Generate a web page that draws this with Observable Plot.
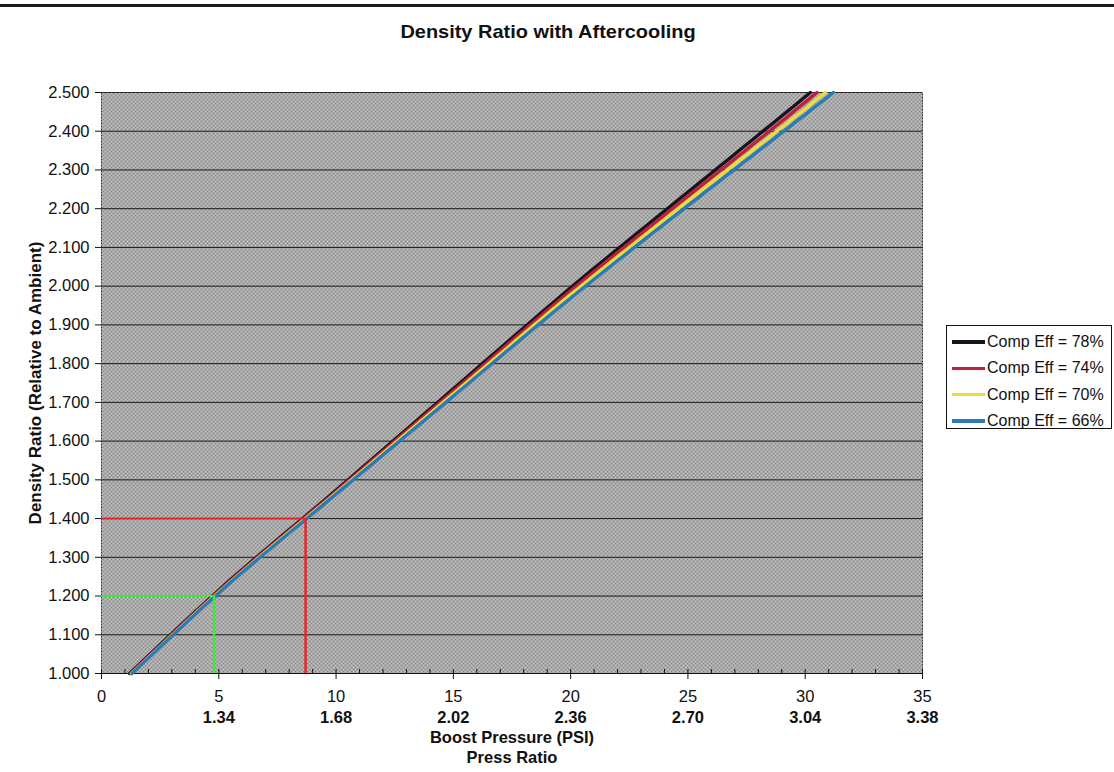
<!DOCTYPE html>
<html>
<head>
<meta charset="utf-8">
<script src="https://cdn.jsdelivr.net/npm/d3@7"></script>
<script src="https://cdn.jsdelivr.net/npm/@observablehq/plot@0.6"></script>
<style>
  body { margin: 0; background: #fff; }
  #wrap { position: relative; width: 1114px; height: 772px; overflow: hidden; font-family: "Liberation Sans", Arial, sans-serif; }
  #topline { position: absolute; left: 0; top: 4px; width: 1114px; height: 3px; background: #1a1a1a; }
  #title { position: absolute; left: 0; width: 1096px; top: 21px; text-align: center; font-weight: bold; font-size: 19px; color: #111; transform: scaleX(1.05); }
  #legend { position: absolute; left: 946px; top: 325px; width: 166px; height: 104px; border: 1px solid #111; background: #fff; box-sizing: border-box; }
  .row { position: absolute; left: 5px; height: 20px; display: flex; align-items: center; font-size: 16px; color: #111; }
  .sw { width: 33px; height: 3.5px; margin-right: 2px; }
  #chart { position: absolute; left: 0; top: 0; }
</style>
</head>
<body>
<div id="wrap">
  <div id="topline"></div>
  <div id="chart"></div>
  <div id="title">Density Ratio with Aftercooling</div>
  <div id="legend"></div>
</div>
<script>
// ---- data ----
const seriesNames = ["Comp Eff = 78%", "Comp Eff = 74%", "Comp Eff = 70%", "Comp Eff = 66%"];
const seriesColors = ["#15151f", "#c0203c", "#ecdc3c", "#2a7cb8"];

const psi78 = [1.2, 5, 10, 15, 20, 25, 30, 30.22];
const ratio78 = [1.0, 1.215, 1.473, 1.735, 1.996, 2.243, 2.489, 2.5];
const psi74 = [1.25, 5, 10, 15, 20, 25, 30, 30.5];
const ratio74 = [1.0, 1.213, 1.470, 1.729, 1.988, 2.232, 2.475, 2.5];
const psi70 = [1.28, 5, 10, 15, 20, 25, 30, 30.86];
const ratio70 = [1.0, 1.210, 1.466, 1.722, 1.978, 2.220, 2.458, 2.5];
const psi66 = [1.3, 5, 10, 15, 20, 25, 30, 31.2];
const ratio66 = [1.0, 1.208, 1.463, 1.716, 1.969, 2.208, 2.443, 2.5];

const psiTicks = [0, 5, 10, 15, 20, 25, 30, 35];
const pressRatioLabels = ["", "1.34", "1.68", "2.02", "2.36", "2.70", "3.04", "3.38"];
const minorPsiTicks = d3.range(0, 36, 1);
const ratioTicks = d3.range(1.0, 2.5001, 0.1);

// reference (read-off) lines
const redRef = {psi: 8.7, ratio: 1.4, color: "#e8262a"};
const greenRef = {psi: 4.8, ratio: 1.2, color: "#3ee83a"};

const xDomain = [0, 35];
const yDomain = [1.0, 2.5];

// ---- build rows ----
const psiArrays = [psi78, psi74, psi70, psi66];
const ratioArrays = [ratio78, ratio74, ratio70, ratio66];
const rows = [];
seriesNames.forEach((name, i) => {
  psiArrays[i].forEach((p, j) => rows.push({series: name, psi: p, ratio: ratioArrays[i][j]}));
});
const refs = [redRef, greenRef];

const font = "Liberation Sans, Arial, sans-serif";

const chart = Plot.plot({
  width: 1114,
  height: 772,
  marginLeft: 101,
  marginRight: 192,
  marginTop: 92,
  marginBottom: 99,
  style: {fontFamily: font, fontSize: "16px", color: "#111", background: "transparent"},
  x: {domain: xDomain},
  y: {domain: yDomain},
  color: {domain: seriesNames, range: seriesColors},
  marks: [
    Plot.frame({fill: "url(#bgpat)", stroke: "none"}),
    Plot.ruleY(ratioTicks, {stroke: "#1a1a1a", strokeWidth: 1}),
    Plot.frame({stroke: "#333", strokeDasharray: "2,1"}),
    Plot.ruleY([yDomain[0]], {stroke: "#111", strokeWidth: 1.2}),
    Plot.line(rows, {x: "psi", y: "ratio", z: "series", stroke: "series", strokeWidth: 3.4, curve: "monotone-x"}),
    Plot.ruleY(refs, {y: "ratio", x1: xDomain[0], x2: "psi", stroke: "color", strokeWidth: 2}),
    Plot.ruleX(refs, {x: "psi", y1: yDomain[0], y2: "ratio", stroke: "color", strokeWidth: 2.5}),
    Plot.axisY({ticks: ratioTicks, tickFormat: d3.format(".3f"), tickSize: 6, tickPadding: 6, label: null, fontSize: 16.5}),
    Plot.axisX({ticks: minorPsiTicks, tickSize: -4, tickFormat: () => "", label: null}),
    Plot.axisX({ticks: psiTicks, tickSize: 6, tickPadding: 11, tickFormat: d3.format("d"), label: null, fontSize: 16.5}),
    Plot.text(psiTicks.map((p, i) => ({psi: p, lab: pressRatioLabels[i]})), {x: "psi", y: () => yDomain[0], text: "lab", dy: 44, fontWeight: "bold", fontSize: 16.5}),
    Plot.text(["Boost Pressure (PSI)"], {frameAnchor: "bottom", dy: 69, fontWeight: "bold", fontSize: 16.5}),
    Plot.text(["Press Ratio"], {frameAnchor: "bottom", dy: 89, fontWeight: "bold", fontSize: 16.5}),
    Plot.text(["Density Ratio (Relative to Ambient)"], {frameAnchor: "left", textAnchor: "middle", dx: -66, rotate: -90, fontWeight: "bold", fontSize: 17})
  ]
});

// texture pattern for the plot background
const defs = d3.select(chart).insert("defs", ":first-child");
const pat = defs.append("pattern").attr("id", "bgpat").attr("width", 4).attr("height", 4).attr("patternUnits", "userSpaceOnUse");
pat.append("rect").attr("width", 4).attr("height", 4).attr("fill", "#c6c6c6");
pat.append("rect").attr("x", 0).attr("y", 0).attr("width", 2).attr("height", 2).attr("fill", "#8a8a8a");
pat.append("rect").attr("x", 2).attr("y", 2).attr("width", 2).attr("height", 2).attr("fill", "#8a8a8a");

document.getElementById("chart").appendChild(chart);

// legend
const lg = document.getElementById("legend");
seriesNames.forEach((name, i) => {
  const r = document.createElement("div");
  r.className = "row";
  r.style.top = (6 + i * 26.3) + "px";
  const sw = document.createElement("div");
  sw.className = "sw";
  sw.style.background = seriesColors[i];
  const t = document.createElement("span");
  t.textContent = name;
  r.appendChild(sw); r.appendChild(t);
  lg.appendChild(r);
});
</script>
</body>
</html>
